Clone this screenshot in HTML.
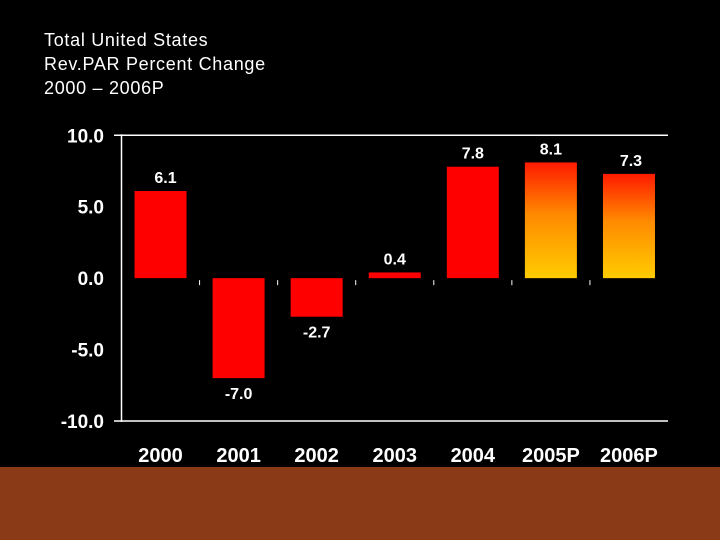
<!DOCTYPE html>
<html><head><meta charset="utf-8"><style>
body{margin:0;background:#000;width:720px;height:540px;overflow:hidden;font-family:"Liberation Sans",Arial,sans-serif}
#t{position:absolute;left:44px;top:28px;color:#fff;font-size:18px;line-height:24px;letter-spacing:0.7px}
#band{position:absolute;left:0;top:467px;width:720px;height:73px;background:#8a3a16}
svg{position:absolute;left:0;top:0}
</style></head><body>
<div id="t">Total United States<br>Rev.PAR Percent Change<br>2000 – 2006P</div>
<div id="band"></div>
<svg id="c" width="720" height="540">
<defs><linearGradient id="g" x1="0" y1="0" x2="0" y2="1"><stop offset="0" stop-color="#ff1a00"/><stop offset="0.45" stop-color="#ff8a00"/><stop offset="1" stop-color="#ffcc00"/></linearGradient></defs>
</svg>
<script>
const categories=["2000","2001","2002","2003","2004","2005P","2006P"];
const values=[6.1,-7.0,-2.7,0.4,7.8,8.1,7.3];
const valueLabels=["6.1","-7.0","-2.7","0.4","7.8","8.1","7.3"];
const projected=[false,false,false,false,false,true,true];
const yTicks=[10,5,0,-5,-10];
const yTickLabels=["10.0","5.0","0.0","-5.0","-10.0"];
const svg=document.getElementById('c');const NS='http://www.w3.org/2000/svg';
const L=121.5,R=668,T=135.3,B=421;
const y=v=>T+(10-v)/20*(B-T);
const step=(R-L)/categories.length;
const x=i=>L+step*(i+0.5);
const labelShift=[5,0,0,0,0,0,2];
function mk(tag,a){const e=document.createElementNS(NS,tag);for(const k in a)e.setAttribute(k,a[k]);svg.appendChild(e);return e;}
let e=mk('line',{x1:L,y1:T-1,x2:L,y2:B+1,stroke:'#fff','stroke-width':1.5});

e=mk('line',{x1:114,y1:T,x2:R,y2:T,stroke:'#fff','stroke-width':1.5});

e=mk('line',{x1:114,y1:B,x2:R,y2:B,stroke:'#fff','stroke-width':1.5});

yTicks.forEach((v,i)=>{const t=mk('text',{x:104,y:y(v)+7,'text-anchor':'end',fill:'#fff','font-size':19,'font-weight':'bold'});t.textContent=yTickLabels[i];
});
for(let i=1;i<categories.length;i++){const t=mk('line',{x1:L+step*i,y1:y(0)+2,x2:L+step*i,y2:y(0)+7,stroke:'#fff','stroke-width':1});
}
const bw=52;
values.forEach((v,i)=>{const y0=y(0),y1=y(v);
const r=mk('rect',{x:x(i)-bw/2,y:Math.min(y0,y1),width:bw,height:Math.abs(y1-y0),fill:projected[i]?'url(#g)':'#ff0000'});

const ly=v>=0?y1-8:y1+21;
const t=mk('text',{x:x(i)+labelShift[i],y:ly,'text-anchor':'middle',fill:'#fff','font-size':16,'font-weight':'bold'});t.textContent=valueLabels[i];

const c=mk('text',{x:x(i),y:462,'text-anchor':'middle',fill:'#fff','font-size':20,'font-weight':'bold'});c.textContent=categories[i];
});
</script>
</body></html>
